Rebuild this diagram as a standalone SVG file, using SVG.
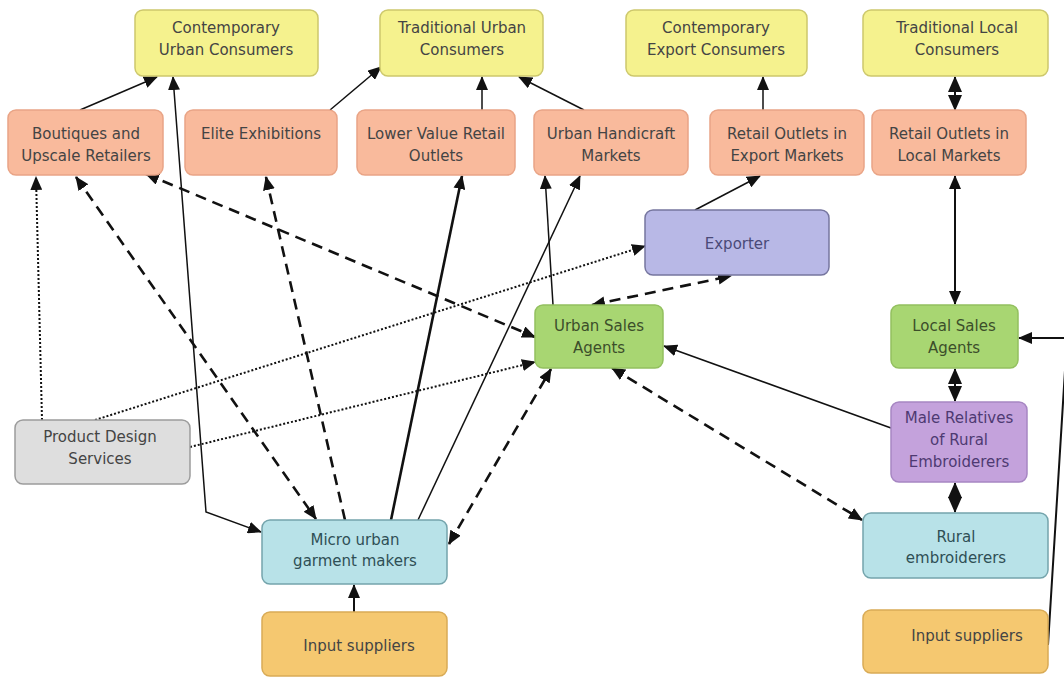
<svg xmlns="http://www.w3.org/2000/svg" width="1064" height="677" viewBox="0 0 1064 677">
  <style>
    .box { stroke-width: 1.5; }
    .yellow { fill: #f5f28e; stroke: #cdc86c; }
    .salmon { fill: #f9ba9c; stroke: #e9a486; }
    .lav { fill: #b8b8e6; stroke: #76769f; }
    .green { fill: #a8d672; stroke: #93c05f; }
    .purple { fill: #c4a2dc; stroke: #a686c2; }
    .cyan { fill: #b8e2e8; stroke: #74a4ac; }
    .orange { fill: #f5c870; stroke: #d9ab56; }
    .gray { fill: #dedede; stroke: #9c9c9c; }
    text { font-family: "DejaVu Sans", Verdana, sans-serif; font-size: 15px; fill: #444444; text-anchor: middle; }
    .tpurple { fill: #4e3a72; }
    .tlav { fill: #4a4a78; }
    .tteal { fill: #2f4f55; }
    .tgreen { fill: #3c4e2a; }
    .ln { fill: none; stroke: #111; }
    .thin { stroke-width: 1.5; }
    .mid { stroke-width: 2; }
    .thick { stroke-width: 2.6; }
    .dash { stroke-width: 2.6; stroke-dasharray: 11 7; }
    .dot { stroke-width: 2; stroke-dasharray: 2 2; }
  </style>
  <defs>
    <marker id="ah" markerUnits="userSpaceOnUse" markerWidth="14" markerHeight="12" refX="13" refY="6" orient="auto-start-reverse">
      <path d="M0,0 L14,6 L0,12 z" fill="#111"/>
    </marker>
    <!-- larger heads for the short paired links, meeting in a diamond -->
    <marker id="ahd" markerUnits="userSpaceOnUse" markerWidth="16" markerHeight="14" refX="15" refY="7" orient="auto-start-reverse">
      <path d="M0,0 L16,7 L0,14 z" fill="#111"/>
    </marker>
  </defs>

  <rect width="1064" height="677" fill="#ffffff"/>

  <!-- connectors -->
  <g id="connectors">
    <path class="ln thin" d="M80,110 L157,77" marker-end="url(#ah)"/>
    <path class="ln thin" d="M173,77 L206,512 L261,532" marker-start="url(#ah)" marker-end="url(#ah)"/>
    <path class="ln thin" d="M330,110 L381,67" marker-end="url(#ah)"/>
    <path class="ln thin" d="M482,110 L482,77" marker-end="url(#ah)"/>
    <path class="ln thin" d="M584,110 L519,77" marker-end="url(#ah)"/>
    <path class="ln thin" d="M763,110 L763,77" marker-end="url(#ah)"/>
    <path class="ln mid" d="M955,77 L955,110" marker-start="url(#ahd)" marker-end="url(#ahd)"/>
    <path class="ln mid" d="M955,176 L955,304" marker-start="url(#ah)" marker-end="url(#ah)"/>
    <path class="ln mid" d="M955,369 L955,401" marker-start="url(#ahd)" marker-end="url(#ahd)"/>
    <path class="ln mid" d="M955,483 L955,512" marker-start="url(#ahd)" marker-end="url(#ahd)"/>
    <path class="ln mid" d="M1048,645 L1067,338 L1019,338" marker-end="url(#ah)"/>
    <path class="ln thin" d="M695,210 L760,176" marker-end="url(#ah)"/>
    <path class="ln dash" d="M592,305 L731,276" marker-start="url(#ah)" marker-end="url(#ah)"/>
    <path class="ln dot" d="M95,420 L645,246" marker-end="url(#ah)"/>
    <path class="ln dot" d="M190,447 L535,362" marker-end="url(#ah)"/>
    <path class="ln dot" d="M42,420 L36,177" marker-end="url(#ah)"/>
    <path class="ln dash" d="M146,174 L535,337" marker-start="url(#ah)" marker-end="url(#ah)"/>
    <path class="ln dash" d="M76,177 L316,519" marker-start="url(#ah)" marker-end="url(#ah)"/>
    <path class="ln dash" d="M345,520 L266,177" marker-end="url(#ah)"/>
    <path class="ln thick" d="M391,520 L462,176" marker-end="url(#ah)"/>
    <path class="ln thin" d="M418,520 L580,176" marker-end="url(#ah)"/>
    <path class="ln thin" d="M553,305 L545,176" marker-end="url(#ah)"/>
    <path class="ln dash" d="M449,544 L551,369" marker-start="url(#ah)" marker-end="url(#ah)"/>
    <path class="ln thin" d="M891,428 L664,346" marker-end="url(#ah)"/>
    <path class="ln dash" d="M612,368 L862,520" marker-start="url(#ah)" marker-end="url(#ah)"/>
    <path class="ln mid" d="M354,612 L354,585" marker-end="url(#ah)"/>
  </g>

  <!-- consumers -->
  <g id="contemporary-urban-consumers">
    <rect class="box yellow" x="135" y="10" width="183" height="66" rx="8"/>
    <text x="226" y="33">Contemporary</text>
    <text x="226" y="55">Urban Consumers</text>
  </g>
  <g id="traditional-urban-consumers">
    <rect class="box yellow" x="380" y="10" width="163" height="66" rx="8"/>
    <text x="462" y="33">Traditional Urban</text>
    <text x="462" y="55">Consumers</text>
  </g>
  <g id="contemporary-export-consumers">
    <rect class="box yellow" x="626" y="10" width="181" height="66" rx="8"/>
    <text x="716" y="33">Contemporary</text>
    <text x="716" y="55">Export Consumers</text>
  </g>
  <g id="traditional-local-consumers">
    <rect class="box yellow" x="863" y="10" width="185" height="66" rx="8"/>
    <text x="957" y="33">Traditional Local</text>
    <text x="957" y="55">Consumers</text>
  </g>

  <!-- retail outlets -->
  <g id="boutiques">
    <rect class="box salmon" x="8" y="110" width="155" height="65" rx="8"/>
    <text x="86" y="139">Boutiques and</text>
    <text x="86" y="161">Upscale Retailers</text>
  </g>
  <g id="elite-exhibitions">
    <rect class="box salmon" x="185" y="110" width="152" height="65" rx="8"/>
    <text x="261" y="139">Elite Exhibitions</text>
  </g>
  <g id="lower-value-retail">
    <rect class="box salmon" x="357" y="110" width="158" height="65" rx="8"/>
    <text x="436" y="139">Lower Value Retail</text>
    <text x="436" y="161">Outlets</text>
  </g>
  <g id="urban-handicraft-markets">
    <rect class="box salmon" x="534" y="110" width="154" height="65" rx="8"/>
    <text x="611" y="139">Urban Handicraft</text>
    <text x="611" y="161">Markets</text>
  </g>
  <g id="retail-export-markets">
    <rect class="box salmon" x="710" y="110" width="154" height="65" rx="8"/>
    <text x="787" y="139">Retail Outlets in</text>
    <text x="787" y="161">Export Markets</text>
  </g>
  <g id="retail-local-markets">
    <rect class="box salmon" x="872" y="110" width="154" height="65" rx="8"/>
    <text x="949" y="139">Retail Outlets in</text>
    <text x="949" y="161">Local Markets</text>
  </g>

  <!-- intermediaries -->
  <g id="exporter">
    <rect class="box lav" x="645" y="210" width="184" height="65" rx="8"/>
    <text class="tlav" x="737" y="249">Exporter</text>
  </g>
  <g id="urban-sales-agents">
    <rect class="box green" x="535" y="305" width="128" height="63" rx="8"/>
    <text class="tgreen" x="599" y="331">Urban Sales</text>
    <text class="tgreen" x="599" y="353">Agents</text>
  </g>
  <g id="local-sales-agents">
    <rect class="box green" x="891" y="305" width="127" height="63" rx="8"/>
    <text class="tgreen" x="954" y="331">Local Sales</text>
    <text class="tgreen" x="954" y="353">Agents</text>
  </g>
  <g id="male-relatives">
    <rect class="box purple" x="891" y="402" width="136" height="80" rx="8"/>
    <text class="tpurple" x="959" y="423">Male Relatives</text>
    <text class="tpurple" x="959" y="445">of Rural</text>
    <text class="tpurple" x="959" y="467">Embroiderers</text>
  </g>
  <g id="product-design-services">
    <rect class="box gray" x="15" y="420" width="175" height="64" rx="8"/>
    <text x="100" y="442">Product Design</text>
    <text x="100" y="464">Services</text>
  </g>

  <!-- producers and suppliers -->
  <g id="micro-urban-garment-makers">
    <rect class="box cyan" x="262" y="520" width="185" height="64" rx="8"/>
    <text class="tteal" x="355" y="545">Micro urban</text>
    <text class="tteal" x="355" y="566">garment makers</text>
  </g>
  <g id="rural-embroiderers">
    <rect class="box cyan" x="863" y="513" width="185" height="65" rx="8"/>
    <text class="tteal" x="956" y="542">Rural</text>
    <text class="tteal" x="956" y="563">embroiderers</text>
  </g>
  <g id="input-suppliers-urban">
    <rect class="box orange" x="262" y="612" width="185" height="64" rx="8"/>
    <text x="359" y="651">Input suppliers</text>
  </g>
  <g id="input-suppliers-rural">
    <rect class="box orange" x="863" y="610" width="185" height="63" rx="8"/>
    <text x="967" y="641">Input suppliers</text>
  </g>
</svg>
